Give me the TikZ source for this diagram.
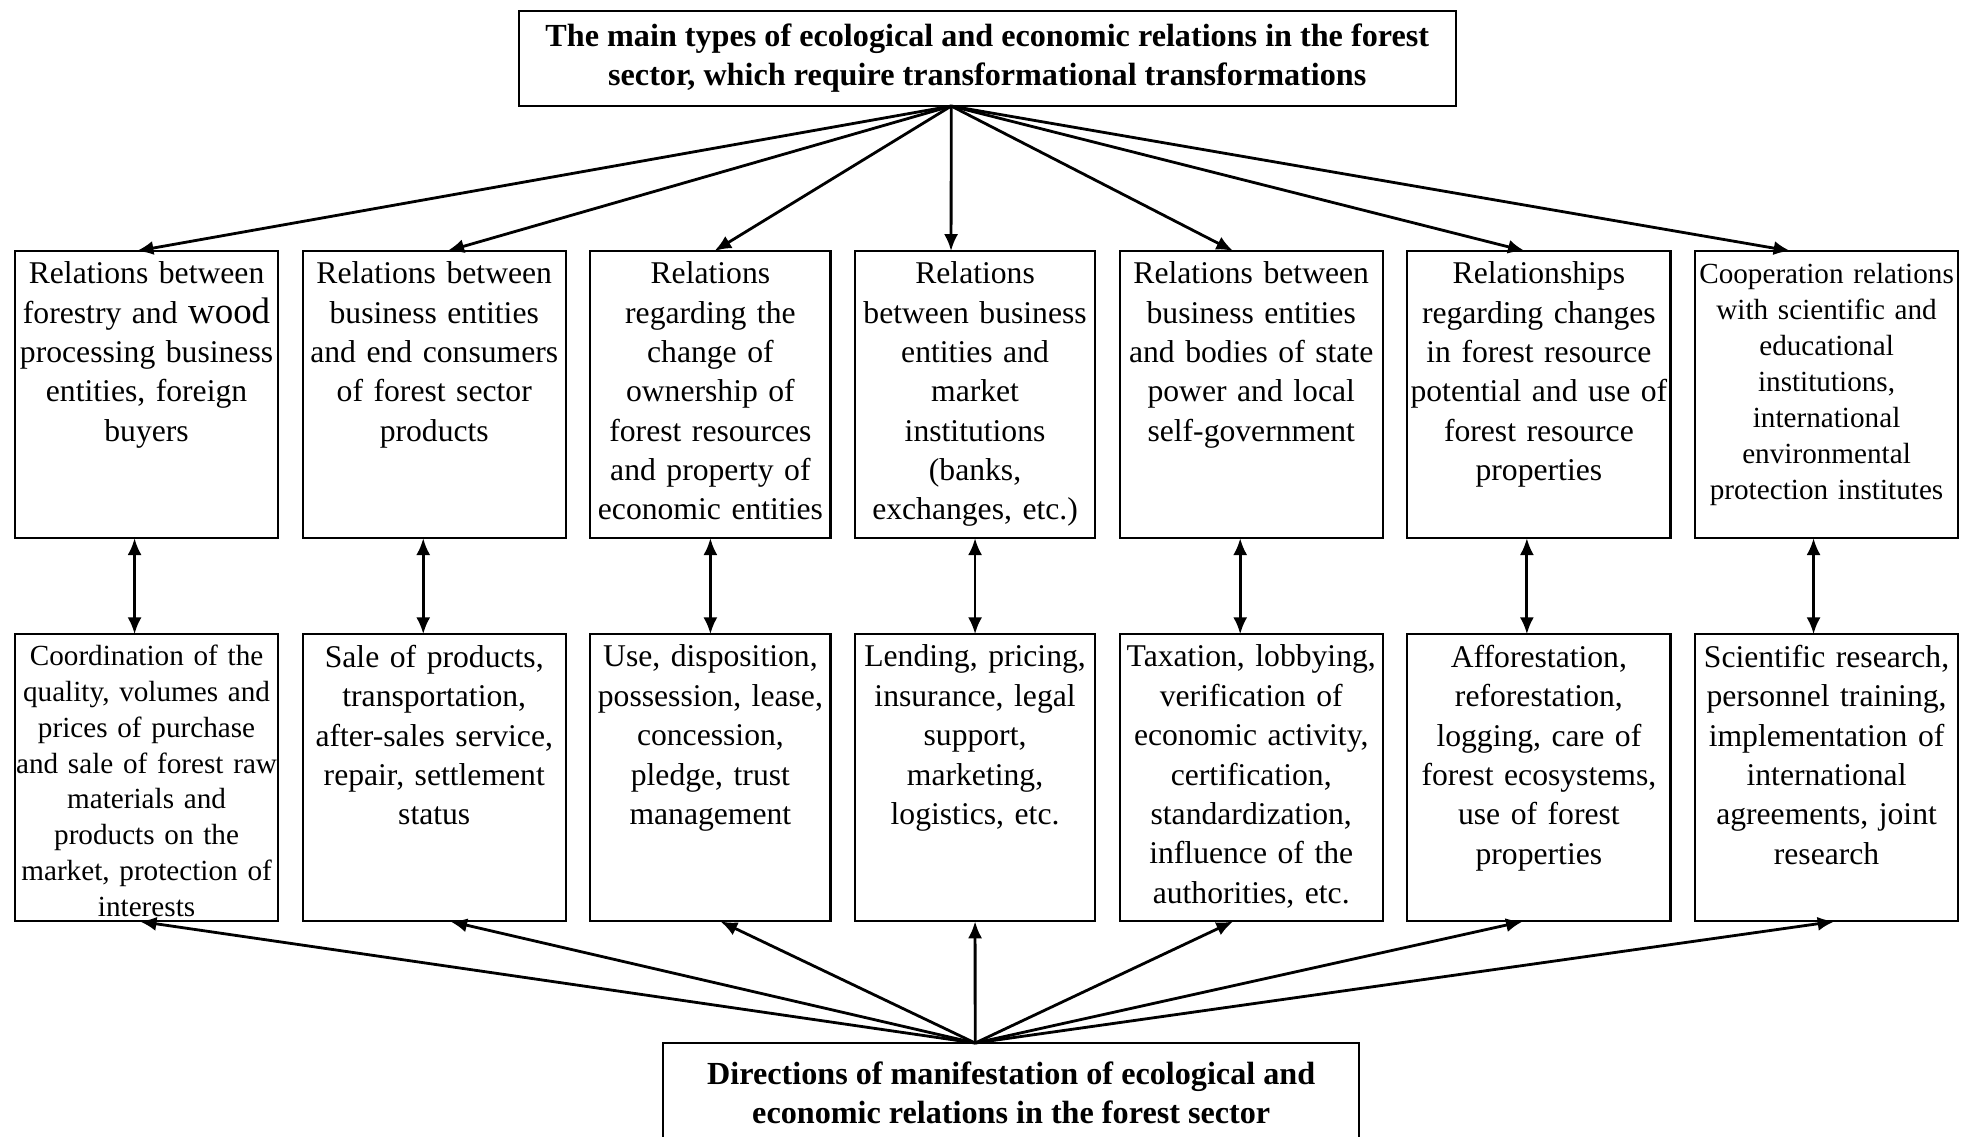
\documentclass[tikz,border=0pt]{standalone}
\usepackage{fontspec}
\setmainfont{Liberation Serif}
\usetikzlibrary{arrows.meta, positioning}

\begin{document}
\begin{tikzpicture}[x=0.01cm, y=-0.01cm, node distance=0.245cm, >={Latex[length=4.8pt,width=4pt]},
    relbox/.style={draw, rectangle, semithick, minimum height=2.87cm, inner sep=0pt, outer sep=0pt},
    boxtext/.style={inner sep=0pt, align=center, font=\fontsize{9}{11.2}\selectfont},
    smalltext/.style={inner sep=0pt, align=center, font=\fontsize{8.3}{10.2}\selectfont},
    titlebox/.style={draw, rectangle, semithick, outer sep=0pt, align=center, font=\fontsize{9.15}{11.1}\selectfont\bfseries}]

    \useasboundingbox (0,0) rectangle (1970,1136);

    \node (types) [titlebox, minimum width=9.36cm, minimum height=0.95cm, anchor=north west] at (519,11) {The main types of ecological and economic relations in the forest \\ sector, which require transformational transformations};

    % upper row: relations
    \node (r1) [relbox, minimum width=2.63cm, anchor=north west] at (15,251) {};
    \node (r2) [relbox, minimum width=2.63cm, right=of r1] {};
    \node (r3) [relbox, minimum width=2.40cm, right=of r2] {};
    \node (r4) [relbox, minimum width=2.40cm, right=of r3] {};
    \node (r5) [relbox, minimum width=2.63cm, right=of r4] {};
    \node (r6) [relbox, minimum width=2.63cm, right=of r5] {};
    \node (r7) [relbox, minimum width=2.63cm, right=of r6] {};

    \node [boxtext, text width=2.63cm, below=0.1cm of r1.north] {Relations between \\ forestry and {\fontsize{10.5}{11.2}\selectfont wood} \\ processing business \\ entities, foreign \\ buyers};
    \node [boxtext, text width=2.63cm, below=0.1cm of r2.north] {Relations between \\ business entities \\ and end consumers \\ of forest sector \\ products};
    \node [boxtext, text width=2.40cm, below=0.1cm of r3.north] {Relations \\ regarding the \\ change of \\ ownership of \\ forest resources \\ and property of \\ economic entities};
    \node [boxtext, text width=2.40cm, below=0.1cm of r4.north] {Relations \\ between business \\ entities and \\ market \\ institutions \\ (banks, \\ exchanges, etc.)};
    \node [boxtext, text width=2.63cm, below=0.1cm of r5.north] {Relations between \\ business entities \\ and bodies of state \\ power and local \\ self-government};
    \node [boxtext, text width=2.63cm, below=0.1cm of r6.north] {Relationships \\ regarding changes \\ in forest resource \\ potential and use of \\ forest resource \\ properties};
    \node [smalltext, text width=2.63cm, below=0.12cm of r7.north] {Cooperation relations \\ with scientific and \\ educational \\ institutions, \\ international \\ environmental \\ protection institutes};

    % lower row: directions
    \node (d1) [relbox, minimum width=2.63cm, below=0.96cm of r1] {};
    \node (d2) [relbox, minimum width=2.63cm, below=0.96cm of r2] {};
    \node (d3) [relbox, minimum width=2.40cm, below=0.96cm of r3] {};
    \node (d4) [relbox, minimum width=2.40cm, below=0.96cm of r4] {};
    \node (d5) [relbox, minimum width=2.63cm, below=0.96cm of r5] {};
    \node (d6) [relbox, minimum width=2.63cm, below=0.96cm of r6] {};
    \node (d7) [relbox, minimum width=2.63cm, below=0.96cm of r7] {};

    \node [smalltext, text width=2.63cm, below=0.1cm of d1.north] {Coordination of the \\ quality, volumes and \\ prices of purchase \\ and sale of forest raw \\ materials and \\ products on the \\ market, protection of \\ interests};
    \node [boxtext, text width=2.63cm, below=0.1cm of d2.north] {Sale of products, \\ transportation, \\ after-sales service, \\ repair, settlement \\ status};
    \node [boxtext, text width=2.40cm, below=0.1cm of d3.north] {Use, disposition, \\ possession, lease, \\ concession, \\ pledge, trust \\ management};
    \node [boxtext, text width=2.40cm, below=0.1cm of d4.north] {Lending, pricing, \\ insurance, legal \\ support, \\ marketing, \\ logistics, etc.};
    \node [boxtext, text width=2.63cm, below=0.1cm of d5.north] {Taxation, lobbying, \\ verification of \\ economic activity, \\ certification, \\ standardization, \\ influence of the \\ authorities, etc.};
    \node [boxtext, text width=2.63cm, below=0.1cm of d6.north] {Afforestation, \\ reforestation, \\ logging, care of \\ forest ecosystems, \\ use of forest \\ properties};
    \node [boxtext, text width=2.63cm, below=0.1cm of d7.north] {Scientific research, \\ personnel training, \\ implementation of \\ international \\ agreements, joint \\ research};

    \node (dirs) [titlebox, minimum width=6.96cm, minimum height=1.0cm, anchor=north west] at (663,1043) {Directions of manifestation of ecological and \\ economic relations in the forest sector};

    \draw [->, thick] ([xshift=-0.36cm]types.south) -- ([xshift=-0.10cm]r1.north);
    \draw [->, thick] ([xshift=-0.36cm]types.south) -- ([xshift=0.13cm]r2.north);
    \draw [->, thick] ([xshift=-0.36cm]types.south) -- ([xshift=0.04cm]r3.north);
    \draw [->, thick] ([xshift=-0.36cm]types.south) -- ([xshift=-0.24cm]r4.north);
    \draw [->, thick] ([xshift=-0.36cm]types.south) -- ([xshift=-0.18cm]r5.north);
    \draw [->, thick] ([xshift=-0.36cm]types.south) -- ([xshift=-0.14cm]r6.north);
    \draw [->, thick] ([xshift=-0.36cm]types.south) -- ([xshift=-0.36cm]r7.north);

    \draw [<->, thick] ([xshift=-0.12cm]r1.south) -- ([xshift=-0.12cm]d1.north);
    \draw [<->, thick] ([xshift=-0.11cm]r2.south) -- ([xshift=-0.11cm]d2.north);
    \draw [<->, thick] (r3.south) -- (d3.north);
    \draw [<->, thick] (r4.south) -- (d4.north);
    \draw [<->, thick] ([xshift=-0.11cm]r5.south) -- ([xshift=-0.11cm]d5.north);
    \draw [<->, thick] ([xshift=-0.12cm]r6.south) -- ([xshift=-0.12cm]d6.north);
    \draw [<->, thick] ([xshift=-0.13cm]r7.south) -- ([xshift=-0.13cm]d7.north);

    \draw [->, thick] ([xshift=-0.36cm]dirs.north) -- ([xshift=-0.07cm]d1.south);
    \draw [->, thick] ([xshift=-0.36cm]dirs.north) -- ([xshift=0.16cm]d2.south);
    \draw [->, thick] ([xshift=-0.36cm]dirs.north) -- ([xshift=0.10cm]d3.south);
    \draw [->, thick] ([xshift=-0.36cm]dirs.north) -- (d4.south);
    \draw [->, thick] ([xshift=-0.36cm]dirs.north) -- ([xshift=-0.18cm]d5.south);
    \draw [->, thick] ([xshift=-0.36cm]dirs.north) -- ([xshift=-0.16cm]d6.south);
    \draw [->, thick] ([xshift=-0.36cm]dirs.north) -- ([xshift=0.08cm]d7.south);
\end{tikzpicture}
\end{document}
